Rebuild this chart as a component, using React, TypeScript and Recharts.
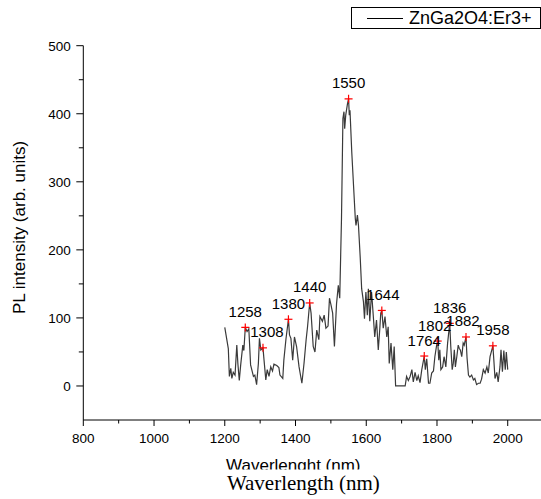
import { ComposedChart, Line, XAxis, YAxis, LabelList } from 'recharts';

// PL spectrum, wavelength (nm)
const wavelength = [
  1200, 1210, 1213, 1217, 1220, 1224, 1229, 1234, 1237, 1241, 1245, 1251, 1254, 1258, 1263, 1268,
  1273, 1281, 1285, 1290, 1295, 1298, 1302, 1308, 1311, 1316, 1320, 1325, 1330, 1335, 1339, 1347,
  1353, 1356, 1364, 1367, 1373, 1380, 1383, 1387, 1392, 1397, 1403, 1410, 1418, 1424, 1430, 1434,
  1440, 1444, 1450, 1455, 1460, 1466, 1469, 1476, 1481, 1486, 1492, 1496, 1500, 1505, 1510, 1516,
  1521, 1525, 1530, 1534, 1537, 1539, 1542, 1547, 1550, 1552, 1554, 1559, 1564, 1569, 1571, 1575,
  1578, 1583, 1587, 1592, 1595, 1599, 1603, 1606, 1610, 1615, 1620, 1624, 1629, 1634, 1638, 1641,
  1644, 1648, 1653, 1658, 1662, 1665, 1670, 1675, 1679, 1683, 1710, 1714, 1719, 1724, 1729, 1733,
  1738, 1743, 1747, 1752, 1757, 1764, 1767, 1771, 1776, 1780, 1785, 1790, 1794, 1799, 1802, 1805,
  1808, 1811, 1816, 1820, 1825, 1830, 1836, 1839, 1843, 1846, 1849, 1852, 1856, 1860, 1863, 1866,
  1870, 1874, 1877, 1882, 1885, 1889, 1893, 1898, 1903, 1907, 1912, 1917, 1922, 1926, 1931, 1936,
  1941, 1945, 1950, 1958, 1961, 1964, 1969, 1973, 1978, 1981, 1985, 1989, 1993, 1996, 2000,
];

// PL intensity (arb. units)
const intensity = [
  86, 55, 14, 26, 11, 20, 16, 60, 33, 8, 31, 60, 52, 86, 80, 84,
  31, 14, 16, 2, 33, 70, 53, 56, 38, 9, 24, 14, 28, 22, 32, 30,
  27, 16, 11, 38, 69, 98, 75, 70, 38, 72, 58, 28, 4, 33, 68, 87,
  122, 107, 58, 50, 82, 68, 102, 95, 104, 85, 88, 129, 120, 107, 58, 121,
  148, 129, 246, 393, 403, 378, 398, 415, 422, 398, 405, 344, 295, 246, 236, 251,
  236, 188, 143, 124, 99, 138, 104, 143, 95, 138, 102, 72, 97, 53, 82, 107,
  111, 85, 102, 72, 87, 33, 63, 24, 58, 0, 0, 14, 8, 14, 24, 6,
  20, 8, 15, 5, 24, 44, 24, 40, 4, 4, 19, 22, 43, 60, 66, 38,
  53, 24, 28, 43, 28, 63, 92, 58, 24, 33, 53, 28, 43, 60, 55, 53,
  43, 63, 60, 72, 41, 16, 13, 16, 9, 11, 2, 4, 4, 10, 24, 19,
  28, 19, 43, 59, 36, 11, 20, 6, 28, 53, 21, 52, 24, 50, 24,
];

// marked peaks
const peakWavelength = [1258, 1308, 1380, 1440, 1550, 1644, 1764, 1802, 1836, 1882, 1958];
const peakIntensity = [86, 56, 98, 122, 422, 111, 44, 66, 92, 72, 59];

const xTicks = [800, 900, 1000, 1100, 1200, 1300, 1400, 1500, 1600, 1700, 1800, 1900, 2000, 2100];
const yTicks = [0, 50, 100, 150, 200, 250, 300, 350, 400, 450, 500];

const seriesName = 'ZnGa2O4:Er3+';

const spectrum = wavelength.map((x, i) => ({ x, y: intensity[i] }));
const peaks = peakWavelength.map((x, i) => ({ x, y: peakIntensity[i], name: String(x) }));

// small horizontal nudges of some peak labels
const labelShift: Record<string, number> = { '1308': 4, '1802': -3, '1882': -3, '1644': 1 };

const FONT = 'Arial, "Liberation Sans", sans-serif';

const XTick = (props: any) => {
  const { x, y, payload } = props;
  const major = payload.value % 200 === 0;
  return (
    <g>
      <line x1={x} x2={x} y1={y} y2={y + (major ? 6 : 3.5)} stroke="#000" strokeWidth={1} />
      {major && (
        <text x={x} y={y + 23} textAnchor="middle" fontSize={13.5} fontFamily={FONT} fill="#000">
          {payload.value}
        </text>
      )}
    </g>
  );
};

const YTick = (props: any) => {
  const { x, y, payload } = props;
  const major = payload.value % 100 === 0;
  return (
    <g>
      <line x1={x} x2={x - (major ? 7 : 4.5)} y1={y} y2={y} stroke="#000" strokeWidth={1} />
      {major && (
        <text x={x - 12.5} y={y + 4.8} textAnchor="end" fontSize={13.5} fontFamily={FONT} fill="#000">
          {payload.value}
        </text>
      )}
    </g>
  );
};

const PlusDot = (props: any) => {
  const { cx, cy, index } = props;
  return (
    <g key={`p-${index}`}>
      <line x1={cx - 4} x2={cx + 4} y1={cy} y2={cy} stroke="#ff0000" strokeWidth={1.2} />
      <line x1={cx} x2={cx} y1={cy - 4} y2={cy + 4} stroke="#ff0000" strokeWidth={1.2} />
    </g>
  );
};

const PeakLabel = (props: any) => {
  const { x, y, value } = props;
  return (
    <text
      x={x + (labelShift[value] ?? 0)}
      y={y - 10.5}
      textAnchor="middle"
      fontSize={15}
      fontFamily={FONT}
      fill="#000"
    >
      {value}
    </text>
  );
};

const XTitle = () => (
  <g>
    <defs>
      <clipPath id="xTitleClip">
        <rect x={0} y={440} width={541} height={29.5} />
      </clipPath>
    </defs>
    <text x={293.3} y={470.5} textAnchor="middle" fontSize={17} fontFamily={FONT} fill="#000" clipPath="url(#xTitleClip)">
      Waverlenght (nm)
    </text>
    <text x={303.3} y={490} textAnchor="middle" fontSize={21} fontFamily='"Liberation Serif", "Times New Roman", serif' fill="#000">
      Waverlength (nm)
    </text>
  </g>
);

const YTitle = () => (
  <text
    x={19.5}
    y={227.5}
    transform="rotate(-90 19.5 227.5)"
    textAnchor="middle"
    dominantBaseline="central"
    fontSize={17}
    fontFamily={FONT}
    fill="#000"
  >
    PL intensity (arb. units)
  </text>
);

export default function App() {
  return (
    <div style={{ position: 'absolute', left: 0, top: 0, width: 541, height: 499, overflow: 'hidden', background: '#fff' }}>
      <ComposedChart width={545} height={499} margin={{ top: 45.7, right: 1.9, left: 0, bottom: 0 }}>
        <XAxis
          dataKey="x"
          type="number"
          domain={[800, 2100]}
          ticks={xTicks}
          interval={0}
          height={79}
          stroke="#000"
          tickLine={false}
          tickSize={0}
          tickMargin={0}
          tick={<XTick />}
          label={{ content: () => <XTitle /> }}
          allowDataOverflow
        />
        <YAxis
          type="number"
          domain={[-50, 500]}
          ticks={yTicks}
          interval={0}
          width={83.3}
          stroke="#000"
          tickLine={false}
          tickSize={0}
          tickMargin={0}
          tick={<YTick />}
          label={{ content: () => <YTitle /> }}
          allowDataOverflow
        />
        <Line
          data={spectrum}
          dataKey="y"
          type="linear"
          stroke="#3a3a3a"
          strokeWidth={1.2}
          dot={false}
          activeDot={false}
          isAnimationActive={false}
        />
        <Line
          data={peaks}
          dataKey="y"
          stroke="none"
          dot={<PlusDot />}
          activeDot={false}
          isAnimationActive={false}
        >
          <LabelList dataKey="name" content={<PeakLabel />} />
        </Line>
      </ComposedChart>
      <div
        style={{
          position: 'absolute',
          left: 351,
          top: 7,
          width: 190,
          height: 22,
          border: '1px solid #000',
          boxSizing: 'border-box',
          background: '#fff',
          fontFamily: FONT,
          fontSize: 18,
          lineHeight: '20px',
          whiteSpace: 'nowrap',
        }}
      >
        <span style={{ position: 'absolute', left: 15, top: 10, width: 36, borderTop: '1px solid #000' }} />
        <span style={{ position: 'absolute', left: 57, top: 0 }}>{seriesName}</span>
      </div>
    </div>
  );
}
